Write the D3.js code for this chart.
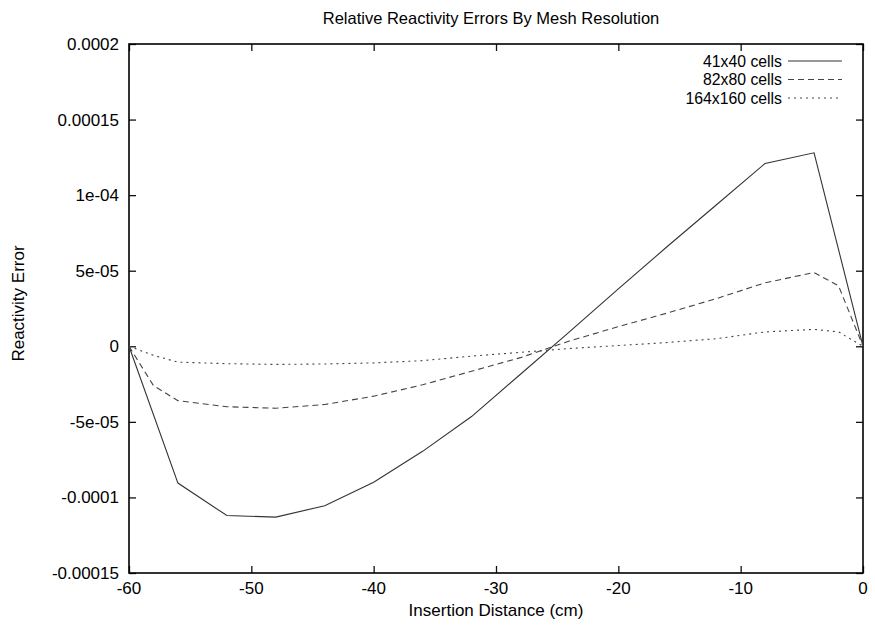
<!DOCTYPE html>
<html>
<head>
<meta charset="utf-8">
<script src="https://cdn.jsdelivr.net/npm/d3@7"></script>
<style>
  html, body { margin: 0; padding: 0; background: #fff; }
  svg { display: block; }
  text { font-family: "Liberation Sans", Arial, Helvetica, sans-serif; fill: #000; }
</style>
</head>
<body>
<svg id="chart" width="875" height="627"></svg>
<script>
// ---- data ----
const xs41 = [-60, -56, -52, -48, -44, -40, -36, -32, -28, -24, -20, -16, -12, -8, -4, 0];
const ys41 = [0, -9.05e-5, -1.12e-4, -1.13e-4, -1.055e-4, -9.0e-5, -6.95e-5, -4.65e-5, -1.85e-5, 0.95e-5, 3.8e-5, 6.6e-5, 9.35e-5, 1.21e-4, 1.28e-4, 0];

const xsFine = [-60, -58, -56, -52, -48, -44, -40, -36, -32, -28, -24, -20, -16, -12, -8, -4, -2, 0];
const ys82 = [0, -2.6e-5, -3.6e-5, -4.0e-5, -4.1e-5, -3.85e-5, -3.3e-5, -2.55e-5, -1.65e-5, -0.75e-5, 0.35e-5, 1.3e-5, 2.2e-5, 3.15e-5, 4.2e-5, 4.88e-5, 4.0e-5, 0];
const ys164 = [0, -0.6e-5, -1.05e-5, -1.15e-5, -1.2e-5, -1.17e-5, -1.1e-5, -0.95e-5, -0.65e-5, -0.4e-5, -0.15e-5, 0.05e-5, 0.25e-5, 0.5e-5, 0.95e-5, 1.12e-5, 0.95e-5, 0];

const seriesNames = ["41x40  cells", "82x80  cells", "164x160 cells"];

const xTickValues = [-60, -50, -40, -30, -20, -10, 0];
const xTickLabels = ["-60", "-50", "-40", "-30", "-20", "-10", "0"];
const yTickValues = [0.0002, 0.00015, 0.0001, 0.00005, 0, -0.00005, -0.0001, -0.00015];
const yTickLabels = ["0.0002", "0.00015", "1e-04", "5e-05", "0", "-5e-05", "-0.0001", "-0.00015"];

const titleText = "Relative Reactivity Errors By Mesh Resolution";
const xLabelText = "Insertion Distance (cm)";
const yLabelText = "Reactivity Error";

// ---- layout ----
const L = 129, R = 863, T = 44, B = 573;
const svg = d3.select("#chart");

const x = d3.scaleLinear().domain([-60, 0]).range([L, R]);
const y = d3.scaleLinear().domain([-0.00015, 0.0002]).range([B, T]);

const tickLen = 7;

// axes (ticks inward, mirrored)
const xAxisB = d3.axisBottom(x).tickValues(xTickValues).tickSize(-tickLen).tickFormat("");
const xAxisT = d3.axisTop(x).tickValues(xTickValues).tickSize(-tickLen).tickFormat("");
const yAxisL = d3.axisLeft(y).tickValues(yTickValues).tickSize(-tickLen).tickFormat("");
const yAxisR = d3.axisRight(y).tickValues(yTickValues).tickSize(-tickLen).tickFormat("");

function styleAxis(g) {
  g.select(".domain").remove();
  g.selectAll(".tick line").attr("stroke", "#111").attr("stroke-width", 1.3);
}
svg.append("g").attr("transform", `translate(0,${B})`).call(xAxisB).call(styleAxis);
svg.append("g").attr("transform", `translate(0,${T})`).call(xAxisT).call(styleAxis);
svg.append("g").attr("transform", `translate(${L},0)`).call(yAxisL).call(styleAxis);
svg.append("g").attr("transform", `translate(${R},0)`).call(yAxisR).call(styleAxis);

// frame
svg.append("rect").attr("x", L).attr("y", T).attr("width", R - L).attr("height", B - T)
  .attr("fill", "none").attr("stroke", "#000").attr("stroke-width", 1.6);

// tick labels
svg.append("g").selectAll("text").data(xTickValues).join("text")
  .attr("x", d => x(d)).attr("y", B + 21)
  .attr("text-anchor", "middle").attr("font-size", 17)
  .text((d, i) => xTickLabels[i]);

svg.append("g").selectAll("text").data(yTickValues).join("text")
  .attr("x", L - 10).attr("y", d => y(d) + 6)
  .attr("text-anchor", "end").attr("font-size", 17)
  .text((d, i) => yTickLabels[i]);

// titles
svg.append("text").attr("x", 491).attr("y", 24).attr("text-anchor", "middle")
  .attr("font-size", 16.5).text(titleText);
svg.append("text").attr("x", 496).attr("y", 616).attr("text-anchor", "middle")
  .attr("font-size", 17).text(xLabelText);
svg.append("text").attr("transform", `translate(24,${(T + B) / 2 - 5}) rotate(-90)`)
  .attr("text-anchor", "middle").attr("font-size", 17).text(yLabelText);

// series
const series = [
  { name: seriesNames[0], xs: xs41, ys: ys41, dash: null, color: "#333" },
  { name: seriesNames[1], xs: xsFine, ys: ys82, dash: "6,4", color: "#444" },
  { name: seriesNames[2], xs: xsFine, ys: ys164, dash: "2,4", color: "#444" }
];

const line = d3.line().x(d => x(d[0])).y(d => y(d[1]));

svg.append("g").selectAll("path").data(series).join("path")
  .attr("d", s => line(s.xs.map((v, i) => [v, s.ys[i]])))
  .attr("fill", "none")
  .attr("stroke", s => s.color)
  .attr("stroke-width", 1.1)
  .attr("stroke-dasharray", s => s.dash);

// legend
const lg = svg.append("g");
series.forEach((s, i) => {
  const yy = 61 + i * 18.5;
  lg.append("text").attr("x", 782).attr("y", yy + 5.5).attr("text-anchor", "end")
    .attr("font-size", 15.8).text(s.name);
  lg.append("line").attr("x1", 788).attr("x2", 842).attr("y1", yy).attr("y2", yy)
    .attr("stroke", s.color).attr("stroke-width", 1.1).attr("stroke-dasharray", s.dash);
});
</script>
</body>
</html>
